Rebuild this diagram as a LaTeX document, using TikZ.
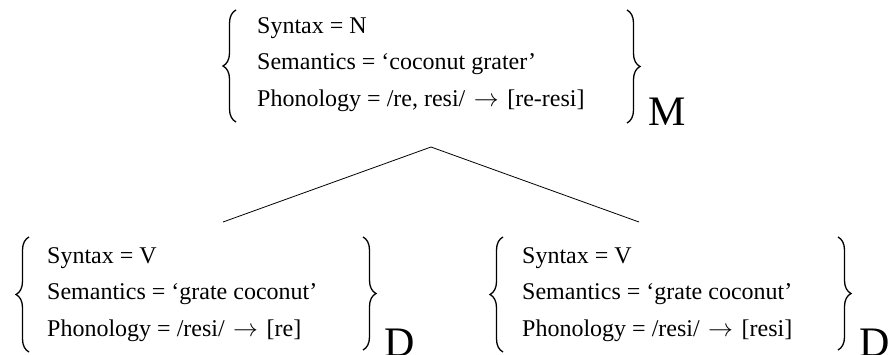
\documentclass[tikz,border=0pt]{standalone}
\usepackage{fontspec}
\setmainfont{Liberation Serif}
\usetikzlibrary{decorations.pathreplacing}
\newcommand{\toarrow}{\hspace{2.5pt}$\rightarrow$\hspace{2.5pt}}
\begin{document}
\begin{tikzpicture}[x=1pt,y=-1pt,
  feat/.style={anchor=base west, inner sep=0pt, font=\fontsize{24}{36.5}\selectfont},
  curly/.style={decorate, decoration={brace, amplitude=13pt}, line width=1.3pt},
  sublabel/.style={anchor=base west, inner sep=0pt, font=\fontsize{42}{42}\selectfont},
  branch/.style={line width=0.8pt}]
\useasboundingbox (0,0) rectangle (891,354);
% top block
\node[feat] (mT) at (257,33) {\begin{tabular}[t]{@{}l@{}}Syntax = N\\Semantics = `coconut grater'\\Phonology = /re, resi/ \toarrow{} [re-resi]\end{tabular}};
\node[sublabel] (mS) at (648,125) {M};
\coordinate (mLb) at (236,122); \coordinate (mLt) at (236,10);
\coordinate (mRt) at (627,10);  \coordinate (mRb) at (627,123);
\draw[curly] (mLb) -- (mLt);
\draw[curly] (mRt) -- (mRb);
% bottom left
\node[feat] (aT) at (47,263) {\begin{tabular}[t]{@{}l@{}}Syntax = V\\Semantics = `grate coconut'\\Phonology = /resi/ \toarrow{} [re]\end{tabular}};
\node[sublabel] (aS) at (384,356) {D};
\coordinate (aLb) at (29,352); \coordinate (aLt) at (29,237);
\coordinate (aRt) at (363,237); \coordinate (aRb) at (363,350);
\draw[curly] (aLb) -- (aLt);
\draw[curly] (aRt) -- (aRb);
% bottom right
\node[feat] (bT) at (522,263) {\begin{tabular}[t]{@{}l@{}}Syntax = V\\Semantics = `grate coconut'\\Phonology = /resi/ \toarrow{} [resi]\end{tabular}};
\node[sublabel] (bS) at (859,356) {D};
\coordinate (bLb) at (503,352); \coordinate (bLt) at (503,237);
\coordinate (bRt) at (838,237); \coordinate (bRb) at (838,350);
\draw[curly] (bLb) -- (bLt);
\draw[curly] (bRt) -- (bRb);
% branches
\coordinate (apex) at (431,147);
\coordinate (lend) at (223,222);
\coordinate (rend) at (639,222);
\draw[branch] (lend) -- (apex) -- (rend);
\end{tikzpicture}
\end{document}
